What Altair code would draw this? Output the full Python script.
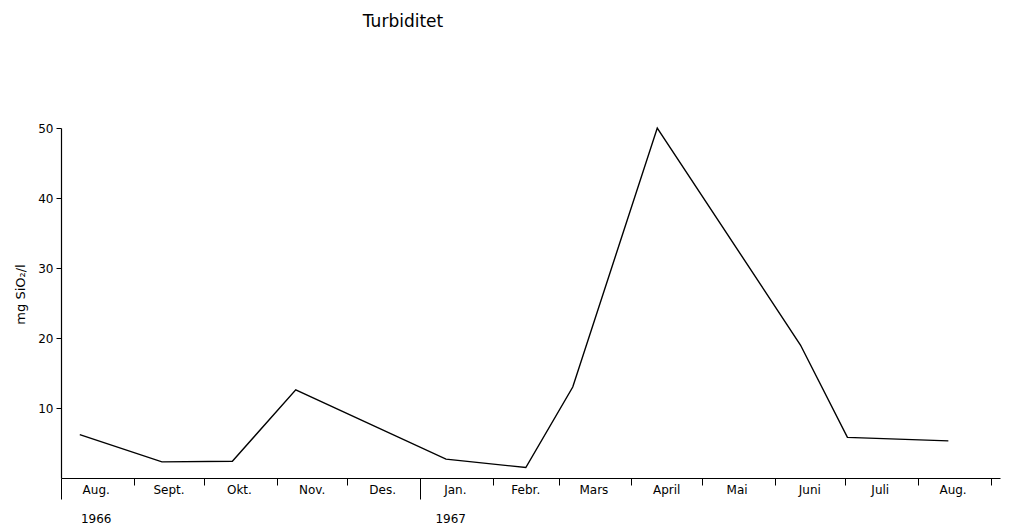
import altair as alt
import pandas as pd

# Measurement dates and turbidity values (mg SiO2/l)
dates = ["1966-08-09", "1966-09-13", "1966-10-13", "1966-11-09", "1967-01-12",
         "1967-02-15", "1967-03-07", "1967-04-12", "1967-06-12", "1967-07-02",
         "1967-08-14"]
values = [6.2, 2.3, 2.4, 12.6, 2.7, 1.5, 13.0, 50.0, 19.0, 5.8, 5.3]

# Month labels (centred in each month)
month_mid = ["1966-08-16", "1966-09-16", "1966-10-16", "1966-11-16", "1966-12-16",
             "1967-01-16", "1967-02-15", "1967-03-16", "1967-04-16", "1967-05-16",
             "1967-06-16", "1967-07-16", "1967-08-16"]
month_labels = ["Aug.", "Sept.", "Okt.", "Nov.", "Des.", "Jan.", "Febr.", "Mars",
                "April", "Mai", "Juni", "Juli", "Aug."]

year_dates = ["1966-08-16", "1967-01-14"]
year_labels = ["1966", "1967"]

# Month boundaries (tick positions): Aug 1966 .. Sept 1967
month_starts = [(1966, m) for m in range(8, 13)] + [(1967, m) for m in range(1, 10)]

FONT = "DejaVu Sans"

df = pd.DataFrame({"date": dates, "value": values})
df_months = pd.DataFrame({"date": month_mid, "label": month_labels})
df_years = pd.DataFrame({"date": year_dates, "label": year_labels})
df_title = pd.DataFrame({"t": ["Turbiditet"]})

xscale = alt.Scale(type="utc",
                   domain=[alt.DateTime(year=1966, month=8, date=1, utc=True),
                           alt.DateTime(year=1967, month=9, date=5, utc=True)])
yscale = alt.Scale(domain=[0, 50], nice=False, zero=True)

tick_values = [alt.DateTime(year=y, month=m, date=1, utc=True) for (y, m) in month_starts]

line = alt.Chart(df).mark_line(color="black", strokeWidth=1.4).encode(
    x=alt.X("date:T", scale=xscale,
            axis=alt.Axis(values=tick_values, labels=False, title=None, grid=False,
                          domainColor="black", domainWidth=1.2, tickColor="black",
                          tickWidth=1,
                          tickSize={"condition": {"test": "utcmonth(datum.value) == 0 || (utcmonth(datum.value) == 7 && utcyear(datum.value) == 1966)",
                                                  "value": 21},
                                    "value": 7})),
    y=alt.Y("value:Q", scale=yscale,
            axis=alt.Axis(values=[10, 20, 30, 40, 50], grid=False, tickSize=5,
                          tickColor="black", domainColor="black", domainWidth=1.2,
                          labelColor="black", labelFont=FONT, labelFontSize=12,
                          labelPadding=3,
                          title="mg SiO₂/l", titleFont=FONT, titleFontSize=13,
                          titleFontWeight="normal", titleColor="black",
                          titleAngle=270, titleAlign="center", titleBaseline="middle",
                          titleX=-41, titleY=166)),
)

months = alt.Chart(df_months).mark_text(font=FONT, fontSize=12, color="black",
                                        baseline="middle", align="center").encode(
    x=alt.X("date:T", scale=xscale),
    y=alt.value(362),
    text="label:N",
)

years = alt.Chart(df_years).mark_text(font=FONT, fontSize=12, color="black",
                                      baseline="middle", align="center").encode(
    x=alt.X("date:T", scale=xscale),
    y=alt.value(391),
    text="label:N",
)

title = alt.Chart(df_title).mark_text(font=FONT, fontSize=17, color="black",
                                      baseline="middle", align="center").encode(
    x=alt.value(342),
    y=alt.value(-106),
    text="t:N",
)

chart = alt.layer(line, months, years, title).properties(
    width=939, height=350,
    autosize=alt.AutoSizeParams(type="none"),
    padding={"left": 53, "top": 120, "right": 4, "bottom": 48},
).configure(background="white").configure_view(stroke=None, strokeWidth=0)

chart.save("out.html", embed_options={"renderer": "svg", "actions": False})
